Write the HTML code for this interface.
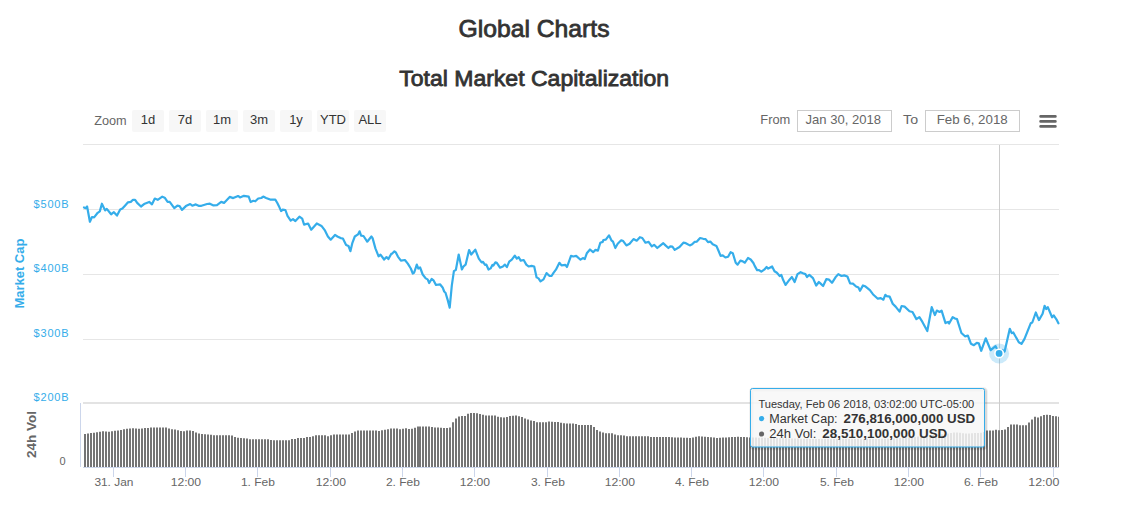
<!DOCTYPE html>
<html><head><meta charset="utf-8">
<style>
html,body{margin:0;padding:0;background:#fff;width:1133px;height:505px;overflow:hidden}
svg{display:block;font-family:"Liberation Sans",sans-serif}
</style></head>
<body>
<svg width="1133" height="505" viewBox="0 0 1133 505">
<rect width="1133" height="505" fill="#fff"/>
<text x="458.5" y="37" font-size="24" fill="#333" stroke="#333" stroke-width="0.8" textLength="151" lengthAdjust="spacingAndGlyphs">Global Charts</text>
<text x="399.2" y="85.8" font-size="22" fill="#333" stroke="#333" stroke-width="0.8" textLength="270" lengthAdjust="spacingAndGlyphs">Total Market Capitalization</text>

<!-- range selector -->
<text x="94.2" y="124.7" font-size="13" fill="#666" textLength="32.5" lengthAdjust="spacingAndGlyphs">Zoom</text>
<g fill="#f7f7f7">
<rect x="132" y="110" width="32" height="22" rx="2"/>
<rect x="169" y="110" width="32" height="22" rx="2"/>
<rect x="206" y="110" width="32" height="22" rx="2"/>
<rect x="243" y="110" width="32" height="22" rx="2"/>
<rect x="280" y="110" width="32" height="22" rx="2"/>
<rect x="317" y="110" width="32" height="22" rx="2"/>
<rect x="354" y="110" width="32" height="22" rx="2"/>
</g>
<g font-size="13" fill="#333" text-anchor="middle">
<text x="148" y="124.3">1d</text>
<text x="185" y="124.3">7d</text>
<text x="222" y="124.3">1m</text>
<text x="259" y="124.3">3m</text>
<text x="296" y="124.3">1y</text>
<text x="333" y="124.3">YTD</text>
<text x="370" y="124.3">ALL</text>
</g>
<text x="760.3" y="123.8" font-size="13" fill="#666" textLength="30" lengthAdjust="spacingAndGlyphs">From</text>
<rect x="797.5" y="110.5" width="94" height="21" fill="none" stroke="#ccc"/>
<text x="805.5" y="123.8" font-size="13" fill="#666" textLength="75.5" lengthAdjust="spacingAndGlyphs">Jan 30, 2018</text>
<text x="903.1" y="123.8" font-size="13" fill="#666" textLength="15" lengthAdjust="spacingAndGlyphs">To</text>
<rect x="925.5" y="110.5" width="94" height="21" fill="none" stroke="#ccc"/>
<text x="936.7" y="123.8" font-size="13" fill="#666" textLength="71" lengthAdjust="spacingAndGlyphs">Feb 6, 2018</text>
<g stroke="#666" stroke-width="2.7" stroke-linecap="round">
<path d="M1040.6,116.4H1055.4M1040.6,121.4H1055.4M1040.6,126.4H1055.4"/>
</g>

<!-- grid -->
<g stroke="#e6e6e6" stroke-width="1">
<path d="M83,144.5H1059M83,209.5H1059M83,274.5H1059M83,339.5H1059"/>
</g>
<g>
<rect x="83" y="402" width="976" height="2" fill="#e3e3e3"/>
</g>
<g font-size="11" fill="#35adea" text-anchor="end">
<text x="68.6" y="208.4" textLength="35" lengthAdjust="spacing">$500B</text>
<text x="68.6" y="272.1" textLength="35" lengthAdjust="spacing">$400B</text>
<text x="68.6" y="337.4" textLength="35" lengthAdjust="spacing">$300B</text>
<text x="68.6" y="401.4" textLength="35" lengthAdjust="spacing">$200B</text>
</g>
<text transform="translate(23.6,273.6) rotate(-90)" font-size="12.5" font-weight="bold" fill="#35adea" text-anchor="middle" textLength="70" lengthAdjust="spacingAndGlyphs">Market Cap</text>
<text transform="translate(35.5,434.5) rotate(-90)" font-size="12.5" font-weight="bold" fill="#666" text-anchor="middle" textLength="47" lengthAdjust="spacingAndGlyphs">24h Vol</text>
<text x="65.6" y="465" font-size="11" fill="#666" text-anchor="end">0</text>

<!-- crosshair -->
<path d="M999.5,145V467" stroke="#ccc" stroke-width="1"/>

<!-- volume bars -->
<path d="M84,467V433.9h2V467zM87,467V433.5h2V467zM90,467V433.1h2V467zM93,467V432.7h2V467zM96,467V432.2h2V467zM99,467V431.7h2V467zM102,467V431.3h2V467zM105,467V431.5h2V467zM108,467V431.7h2V467zM111,467V431.3h2V467zM114,467V430.8h2V467zM117,467V430.5h2V467zM120,467V430.0h2V467zM123,467V429.2h2V467zM126,467V428.8h2V467zM129,467V428.5h2V467zM132,467V428.3h2V467zM135,467V428.5h2V467zM138,467V428.7h2V467zM141,467V428.5h2V467zM144,467V428.1h2V467zM147,467V427.9h2V467zM150,467V427.6h2V467zM153,467V427.4h2V467zM156,467V427.4h2V467zM159,467V427.4h2V467zM162,467V427.4h2V467zM165,467V427.4h2V467zM168,467V428.6h2V467zM171,467V429.3h2V467zM174,467V429.6h2V467zM177,467V430.2h2V467zM180,467V431.1h2V467zM183,467V431.3h2V467zM186,467V430.4h2V467zM189,467V430.4h2V467zM192,467V430.9h2V467zM195,467V432.6h2V467zM198,467V433.4h2V467zM201,467V434.1h2V467zM204,467V434.3h2V467zM207,467V434.4h2V467zM210,467V434.7h2V467zM213,467V435.3h2V467zM216,467V435.3h2V467zM219,467V435.3h2V467zM222,467V435.3h2V467zM225,467V435.3h2V467zM228,467V435.3h2V467zM231,467V435.4h2V467zM234,467V436.9h2V467zM237,467V437.7h2V467zM240,467V438.0h2V467zM243,467V438.2h2V467zM246,467V438.4h2V467zM249,467V439.2h2V467zM252,467V439.2h2V467zM255,467V439.2h2V467zM258,467V439.2h2V467zM261,467V439.2h2V467zM264,467V439.2h2V467zM267,467V439.2h2V467zM270,467V439.9h2V467zM273,467V440.2h2V467zM276,467V440.2h2V467zM279,467V440.2h2V467zM282,467V440.2h2V467zM285,467V440.2h2V467zM288,467V440.2h2V467zM291,467V439.1h2V467zM294,467V438.9h2V467zM297,467V438.0h2V467zM300,467V438.0h2V467zM303,467V438.0h2V467zM306,467V437.1h2V467zM309,467V436.9h2V467zM312,467V436.3h2V467zM315,467V435.3h2V467zM318,467V435.3h2V467zM321,467V435.3h2V467zM324,467V435.3h2V467zM327,467V436.2h2V467zM330,467V435.3h2V467zM333,467V434.5h2V467zM336,467V434.4h2V467zM339,467V434.4h2V467zM342,467V434.4h2V467zM345,467V434.4h2V467zM348,467V434.4h2V467zM351,467V433.1h2V467zM354,467V431.4h2V467zM357,467V430.4h2V467zM360,467V430.4h2V467zM363,467V430.4h2V467zM366,467V430.4h2V467zM369,467V430.4h2V467zM372,467V430.4h2V467zM375,467V430.6h2V467zM378,467V430.9h2V467zM381,467V430.2h2V467zM384,467V429.8h2V467zM387,467V429.2h2V467zM390,467V428.4h2V467zM393,467V428.4h2V467zM396,467V428.5h2V467zM399,467V429.2h2V467zM402,467V428.8h2V467zM405,467V428.3h2V467zM408,467V429.1h2V467zM411,467V428.7h2V467zM414,467V427.7h2V467zM417,467V426.5h2V467zM419,467V426.5h2V467zM422,467V426.5h2V467zM425,467V426.5h2V467zM428,467V426.5h2V467zM431,467V426.9h2V467zM434,467V427.4h2V467zM437,467V427.6h2V467zM440,467V427.8h2V467zM443,467V427.9h2V467zM446,467V428.1h2V467zM449,467V427.6h2V467zM452,467V422.2h2V467zM455,467V418.6h2V467zM458,467V416.5h2V467zM461,467V416.1h2V467zM464,467V415.9h2V467zM467,467V413.8h2V467zM470,467V412.9h2V467zM473,467V413.1h2V467zM476,467V413.2h2V467zM479,467V414.0h2V467zM482,467V414.7h2V467zM485,467V415.4h2V467zM488,467V415.4h2V467zM491,467V415.4h2V467zM494,467V415.5h2V467zM497,467V416.7h2V467zM500,467V417.3h2V467zM503,467V417.5h2V467zM506,467V417.0h2V467zM509,467V416.1h2V467zM512,467V415.7h2V467zM515,467V415.4h2V467zM518,467V416.2h2V467zM521,467V417.1h2V467zM524,467V418.4h2V467zM527,467V419.6h2V467zM530,467V420.5h2V467zM533,467V421.0h2V467zM536,467V422.2h2V467zM539,467V422.2h2V467zM542,467V422.2h2V467zM545,467V422.2h2V467zM548,467V421.6h2V467zM551,467V421.8h2V467zM554,467V422.0h2V467zM557,467V422.1h2V467zM560,467V422.7h2V467zM563,467V423.3h2V467zM566,467V423.5h2V467zM569,467V423.5h2V467zM572,467V423.5h2V467zM575,467V424.0h2V467zM578,467V424.9h2V467zM581,467V425.1h2V467zM584,467V425.1h2V467zM587,467V425.1h2V467zM590,467V425.1h2V467zM593,467V426.9h2V467zM596,467V429.9h2V467zM599,467V431.5h2V467zM602,467V432.4h2V467zM605,467V433.2h2V467zM608,467V433.2h2V467zM611,467V433.2h2V467zM614,467V434.4h2V467zM617,467V435.3h2V467zM620,467V435.3h2V467zM623,467V435.5h2V467zM626,467V436.2h2V467zM629,467V436.2h2V467zM632,467V436.2h2V467zM635,467V436.2h2V467zM638,467V436.2h2V467zM641,467V436.2h2V467zM644,467V436.2h2V467zM647,467V436.2h2V467zM650,467V437.1h2V467zM653,467V437.1h2V467zM656,467V437.1h2V467zM659,467V437.1h2V467zM662,467V437.1h2V467zM665,467V437.1h2V467zM668,467V437.1h2V467zM671,467V437.2h2V467zM674,467V437.4h2V467zM677,467V437.5h2V467zM680,467V437.6h2V467zM683,467V437.7h2V467zM686,467V437.8h2V467zM689,467V437.9h2V467zM692,467V437.6h2V467zM695,467V436.8h2V467zM698,467V436.2h2V467zM701,467V436.5h2V467zM704,467V436.8h2V467zM707,467V437.1h2V467zM710,467V437.3h2V467zM713,467V437.6h2V467zM716,467V437.9h2V467zM719,467V437.8h2V467zM722,467V437.6h2V467zM725,467V437.4h2V467zM728,467V437.2h2V467zM731,467V437.0h2V467zM734,467V436.9h2V467zM737,467V436.8h2V467zM740,467V436.9h2V467zM743,467V437.1h2V467zM746,467V437.3h2V467zM749,467V437.5h2V467zM752,467V437.5h2V467zM755,467V437.6h2V467zM758,467V437.7h2V467zM761,467V437.7h2V467zM764,467V437.8h2V467zM767,467V437.9h2V467zM770,467V438.0h2V467zM773,467V438.0h2V467zM776,467V438.1h2V467zM779,467V438.2h2V467zM782,467V438.3h2V467zM785,467V438.3h2V467zM788,467V438.4h2V467zM791,467V438.5h2V467zM794,467V438.6h2V467zM797,467V438.6h2V467zM800,467V438.7h2V467zM803,467V438.8h2V467zM806,467V438.8h2V467zM809,467V438.9h2V467zM812,467V438.9h2V467zM815,467V438.9h2V467zM818,467V438.9h2V467zM821,467V438.9h2V467zM824,467V438.9h2V467zM827,467V439.0h2V467zM830,467V439.0h2V467zM833,467V439.0h2V467zM836,467V439.0h2V467zM839,467V439.0h2V467zM842,467V439.1h2V467zM845,467V439.1h2V467zM848,467V439.1h2V467zM851,467V439.1h2V467zM854,467V439.1h2V467zM857,467V439.1h2V467zM860,467V439.2h2V467zM863,467V439.2h2V467zM866,467V439.1h2V467zM869,467V439.1h2V467zM872,467V439.0h2V467zM875,467V438.9h2V467zM878,467V438.9h2V467zM881,467V438.8h2V467zM884,467V438.7h2V467zM887,467V438.7h2V467zM890,467V438.6h2V467zM893,467V438.5h2V467zM896,467V438.3h2V467zM899,467V438.1h2V467zM902,467V437.9h2V467zM905,467V437.6h2V467zM908,467V437.4h2V467zM911,467V437.1h2V467zM914,467V436.9h2V467zM917,467V436.6h2V467zM920,467V436.3h2V467zM923,467V436.0h2V467zM926,467V435.7h2V467zM929,467V435.4h2V467zM932,467V435.1h2V467zM935,467V434.8h2V467zM938,467V434.5h2V467zM941,467V434.2h2V467zM944,467V433.9h2V467zM947,467V433.6h2V467zM950,467V433.1h2V467zM953,467V432.5h2V467zM956,467V432.5h2V467zM959,467V432.8h2V467zM962,467V433.2h2V467zM965,467V433.5h2V467zM968,467V433.4h2V467zM971,467V433.2h2V467zM974,467V433.1h2V467zM977,467V432.9h2V467zM980,467V432.8h2V467zM983,467V432.1h2V467zM986,467V430.4h2V467zM989,467V430.4h2V467zM992,467V430.4h2V467zM995,467V429.7h2V467zM998,467V430.3h2V467zM1001,467V429.9h2V467zM1004,467V429.4h2V467zM1007,467V427.1h2V467zM1010,467V424.4h2V467zM1013,467V424.4h2V467zM1016,467V424.4h2V467zM1019,467V425.2h2V467zM1022,467V425.2h2V467zM1025,467V425.2h2V467zM1028,467V422.5h2V467zM1031,467V419.5h2V467zM1034,467V416.8h2V467zM1037,467V417.6h2V467zM1040,467V416.3h2V467zM1043,467V415.0h2V467zM1046,467V414.7h2V467zM1049,467V415.1h2V467zM1052,467V416.0h2V467zM1055,467V416.3h2V467zM1058,467V416.7h1V467z" fill="#747474"/>
<g stroke="#ccd6eb" stroke-width="1">
<path d="M80.5,403V467"/>
<path d="M83,467.5H1059"/>
<path d="M113.5,467V477M185.5,467V477M257.5,467V477M330.5,467V477M402.5,467V477M474.5,467V477M547.5,467V477M619.5,467V477M691.5,467V477M763.5,467V477M836.5,467V477M908.5,467V477M980.5,467V477M1053.5,467V477"/>
</g>
<g font-size="11.2" fill="#666" text-anchor="middle">
<text x="113.9" y="486" textLength="39" lengthAdjust="spacingAndGlyphs">31. Jan</text>
<text x="185.9" y="486" textLength="30.5" lengthAdjust="spacingAndGlyphs">12:00</text>
<text x="257.9" y="486" textLength="34" lengthAdjust="spacingAndGlyphs">1. Feb</text>
<text x="330.9" y="486" textLength="30.5" lengthAdjust="spacingAndGlyphs">12:00</text>
<text x="402.9" y="486" textLength="34" lengthAdjust="spacingAndGlyphs">2. Feb</text>
<text x="474.9" y="486" textLength="30.5" lengthAdjust="spacingAndGlyphs">12:00</text>
<text x="547.9" y="486" textLength="34" lengthAdjust="spacingAndGlyphs">3. Feb</text>
<text x="619.9" y="486" textLength="30.5" lengthAdjust="spacingAndGlyphs">12:00</text>
<text x="691.9" y="486" textLength="34" lengthAdjust="spacingAndGlyphs">4. Feb</text>
<text x="763.9" y="486" textLength="30.5" lengthAdjust="spacingAndGlyphs">12:00</text>
<text x="836.9" y="486" textLength="34" lengthAdjust="spacingAndGlyphs">5. Feb</text>
<text x="908.9" y="486" textLength="30.5" lengthAdjust="spacingAndGlyphs">12:00</text>
<text x="980.9" y="486" textLength="34" lengthAdjust="spacingAndGlyphs">6. Feb</text>
<text x="1059.3" y="486" text-anchor="end" textLength="31" lengthAdjust="spacingAndGlyphs">12:00</text>
</g>

<!-- price line -->
<path d="M84.0,207.5 L85.6,208.2 L87.1,206.5 L89.9,221.7 L92.0,217.0 L94.1,217.4 L97.7,212.8 L99.8,211.4 L101.9,203.7 L105.1,210.4 L106.8,208.9 L111.1,214.3 L113.9,212.2 L117.0,215.6 L120.2,209.4 L122.4,208.5 L125.2,205.4 L128.0,202.3 L130.8,201.9 L133.0,199.8 L135.1,199.8 L137.2,202.9 L141.0,206.5 L144.7,203.7 L149.2,201.9 L152.0,204.3 L154.8,198.6 L157.7,199.8 L162.3,196.7 L164.7,197.7 L167.6,201.9 L169.7,201.9 L174.3,208.2 L177.4,205.7 L179.6,206.1 L182.0,209.9 L185.9,206.1 L190.2,204.0 L192.3,205.7 L195.8,204.4 L198.6,205.8 L201.4,205.8 L207.1,204.0 L209.9,203.7 L213.5,205.4 L217.0,205.1 L221.2,201.9 L224.0,202.9 L229.7,196.9 L233.2,198.1 L237.5,196.2 L238.4,196.1 L240.0,197.4 L243.9,195.8 L248.7,196.6 L250.6,202.0 L253.4,200.8 L255.3,201.3 L258.2,198.5 L261.3,198.0 L263.2,196.6 L266.1,198.0 L270.1,199.6 L272.4,199.7 L275.3,199.6 L277.2,202.7 L278.8,205.9 L281.1,211.1 L282.7,209.6 L285.4,210.0 L287.5,215.9 L290.7,220.6 L293.0,219.1 L295.4,221.1 L299.4,216.7 L302.2,218.7 L304.1,224.6 L308.1,223.5 L311.2,229.7 L316.8,223.5 L321.5,225.9 L324.7,230.1 L327.9,236.5 L330.7,239.7 L335.0,234.9 L337.4,236.5 L340.6,238.1 L342.9,238.5 L346.1,244.9 L348.5,246.0 L350.4,251.2 L352.4,242.8 L354.8,236.5 L358.0,234.4 L359.6,231.3 L361.1,235.7 L363.5,236.0 L367.2,241.7 L371.4,236.5 L372.6,238.1 L375.4,248.4 L378.6,256.3 L380.5,254.7 L384.1,259.5 L386.5,257.1 L388.4,259.1 L391.2,253.9 L392.0,253.7 L394.4,251.3 L396.0,252.7 L397.9,256.6 L400.9,260.6 L404.9,260.0 L407.8,263.6 L410.8,268.5 L412.8,273.5 L414.2,272.5 L416.8,264.6 L418.3,268.5 L420.1,267.5 L422.7,274.5 L425.7,278.4 L427.6,279.4 L429.2,283.0 L431.6,279.0 L433.6,280.4 L436.0,285.0 L439.5,284.4 L440.0,284.3 L442.8,287.8 L444.2,291.5 L445.5,292.7 L447.6,299.6 L449.7,307.6 L451.8,285.7 L453.9,271.2 L455.9,269.8 L458.7,254.5 L461.9,269.4 L463.6,266.3 L465.6,264.7 L469.1,250.0 L471.2,254.5 L475.3,249.7 L478.8,258.7 L481.6,262.4 L483.0,261.9 L485.0,264.9 L486.4,264.7 L488.5,269.5 L490.6,268.4 L492.4,264.9 L493.3,265.6 L495.4,262.4 L496.8,262.9 L500.0,267.7 L502.9,266.5 L504.9,264.6 L506.9,267.1 L509.2,261.6 L511.8,259.6 L514.8,255.6 L516.8,258.6 L518.7,257.2 L520.7,260.6 L523.7,260.0 L526.3,264.6 L528.6,266.5 L531.6,265.9 L534.2,266.5 L536.6,277.4 L538.5,278.4 L540.5,281.4 L543.5,279.4 L546.5,273.1 L549.6,276.0 L551.5,276.0 L553.5,272.8 L555.9,269.7 L559.4,262.8 L561.5,265.4 L565.4,264.9 L567.0,267.0 L571.0,255.9 L573.3,256.5 L576.2,255.9 L580.5,259.7 L582.9,258.1 L584.8,259.0 L586.8,253.3 L590.0,249.5 L593.1,252.2 L595.5,249.9 L597.9,250.6 L600.3,242.7 L602.7,241.9 L603.4,240.0 L605.8,239.6 L609.0,235.3 L611.4,240.3 L613.0,241.6 L615.3,248.0 L617.7,243.8 L621.2,240.3 L623.2,241.1 L626.4,245.4 L629.6,243.8 L633.5,239.1 L636.7,240.7 L639.9,237.2 L642.3,238.0 L645.4,242.7 L648.6,241.9 L651.8,246.4 L654.1,244.8 L657.3,248.0 L660.5,245.4 L663.3,243.2 L665.5,245.4 L668.4,248.0 L670.3,246.4 L672.4,246.7 L674.7,249.9 L679.5,247.0 L683.4,242.7 L685.8,243.2 L689.8,245.4 L692.2,244.3 L694.5,241.9 L696.9,241.6 L700.1,238.0 L703.2,238.8 L705.6,239.1 L708.0,242.1 L710.3,241.6 L712.7,244.3 L716.4,245.9 L718.3,250.3 L720.6,255.9 L722.7,255.4 L725.4,257.5 L728.1,256.7 L730.6,252.2 L732.8,253.2 L735.7,262.7 L737.6,264.6 L740.4,260.6 L742.8,261.4 L744.9,262.7 L748.0,258.0 L750.7,259.5 L753.4,263.0 L754.7,265.9 L757.1,270.1 L759.1,270.1 L761.3,271.7 L764.2,269.7 L766.6,267.0 L768.2,268.6 L770.2,267.5 L772.1,266.5 L774.5,271.3 L776.9,272.8 L779.7,276.0 L781.3,274.9 L783.2,280.1 L785.6,284.9 L789.5,279.7 L791.9,277.0 L794.6,282.0 L797.5,274.1 L800.6,272.2 L803.0,273.3 L805.4,274.1 L807.0,277.0 L809.3,274.9 L813.0,278.1 L816.2,285.5 L818.9,282.0 L820.9,283.9 L823.1,286.0 L826.3,279.2 L829.1,279.7 L832.0,282.8 L835.5,277.3 L838.3,274.1 L841.5,276.0 L844.2,275.4 L847.4,276.5 L850.1,283.3 L852.9,283.6 L856.1,286.5 L858.5,287.6 L860.0,290.8 L863.0,285.4 L865.0,286.2 L869.9,290.2 L872.9,294.2 L877.8,298.7 L880.8,298.1 L883.4,299.7 L885.3,294.8 L886.7,296.1 L889.7,296.7 L892.7,303.7 L895.6,306.6 L899.6,311.6 L901.6,306.0 L904.6,306.6 L909.5,311.2 L912.5,312.0 L916.4,319.1 L919.4,317.1 L922.4,321.9 L927.3,331.0 L931.7,307.2 L934.9,315.1 L936.8,310.6 L939.6,312.0 L941.6,310.6 L945.5,323.1 L948.1,321.9 L949.1,323.5 L952.7,317.1 L955.0,318.5 L957.0,319.1 L961.4,333.0 L965.0,336.3 L967.9,335.7 L970.9,343.7 L973.9,345.2 L976.8,342.9 L978.8,343.3 L981.2,350.8 L985.7,338.3 L990.7,350.2 L995.6,346.2 L999.0,353.4 L1002.2,349.9 L1004.6,351.5 L1009.8,328.8 L1011.7,333.1 L1013.3,332.5 L1018.8,342.3 L1021.5,343.9 L1024.4,339.1 L1030.7,323.3 L1032.3,322.5 L1035.8,312.5 L1038.9,320.1 L1042.6,313.8 L1044.6,305.8 L1046.2,309.0 L1047.8,307.1 L1052.1,317.3 L1053.7,315.4 L1056.4,319.3 L1058.4,323.3" fill="none" stroke="#35adea" stroke-width="2.2" stroke-linejoin="round" stroke-linecap="round"/>
<circle cx="999.1" cy="353.4" r="10" fill="#35adea" fill-opacity="0.25"/>
<circle cx="999.1" cy="353.4" r="4.2" fill="#35adea" stroke="#fff" stroke-width="1.6"/>

<!-- tooltip -->
<g>
<rect x="751.5" y="389.5" width="234" height="58.5" rx="2" fill="none" stroke="rgba(0,0,0,0.05)" stroke-width="5"/>
<rect x="751.5" y="389.5" width="234" height="58.5" rx="2" fill="none" stroke="rgba(0,0,0,0.1)" stroke-width="3"/>
<rect x="750.5" y="388.5" width="234" height="58.5" rx="2" fill="rgba(247,247,247,0.85)" stroke="#35adea" stroke-width="1"/>
<text x="758.4" y="407.9" font-size="11" fill="#333" textLength="215.8" lengthAdjust="spacingAndGlyphs">Tuesday, Feb 06 2018, 03:02:00 UTC-05:00</text>
<circle cx="761.6" cy="418.6" r="2.6" fill="#35adea"/>
<text x="769.3" y="422.8" font-size="12.5" fill="#333" textLength="68.3" lengthAdjust="spacingAndGlyphs">Market Cap:</text>
<text x="843.5" y="422.8" font-size="12.5" font-weight="bold" fill="#333" textLength="131.7" lengthAdjust="spacingAndGlyphs">276,816,000,000 USD</text>
<circle cx="761.6" cy="434" r="2.6" fill="#666"/>
<text x="769.3" y="437.7" font-size="12.5" fill="#333" textLength="47.1" lengthAdjust="spacingAndGlyphs">24h Vol:</text>
<text x="822.3" y="437.7" font-size="12.5" font-weight="bold" fill="#333" textLength="125" lengthAdjust="spacingAndGlyphs">28,510,100,000 USD</text>
</g>
</svg>
</body></html>
